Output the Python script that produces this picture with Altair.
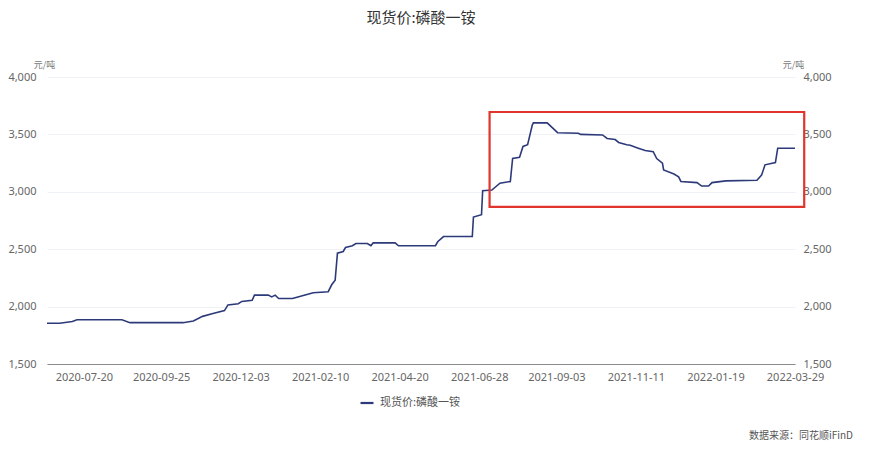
import altair as alt
import pandas as pd

# ---------------- data ----------------
series_name = "现货价:磷酸一铵"
chart_title = "现货价:磷酸一铵"
unit_label = "元/吨"
source_label = "数据来源：同花顺iFinD"

dates = [
    "2020-06-18", "2020-06-29", "2020-07-10", "2020-07-14", "2020-08-22", "2020-08-29",
    "2020-10-14", "2020-10-23", "2020-10-31", "2020-11-09", "2020-11-19", "2020-11-22",
    "2020-12-01", "2020-12-04", "2020-12-13", "2020-12-15", "2020-12-27", "2020-12-30",
    "2021-01-02", "2021-01-05", "2021-01-17", "2021-01-24", "2021-02-04", "2021-02-17",
    "2021-02-20", "2021-02-23", "2021-02-25", "2021-03-02", "2021-03-04", "2021-03-10",
    "2021-03-13", "2021-03-23", "2021-03-26", "2021-03-28", "2021-04-16", "2021-04-19",
    "2021-05-21", "2021-05-23", "2021-05-28", "2021-06-22", "2021-06-23", "2021-06-30",
    "2021-07-01", "2021-07-09", "2021-07-16", "2021-07-25", "2021-07-27", "2021-08-02",
    "2021-08-05", "2021-08-09", "2021-08-13", "2021-08-14", "2021-08-26", "2021-09-04",
    "2021-09-22", "2021-09-24", "2021-10-13", "2021-10-17", "2021-10-24", "2021-10-27",
    "2021-11-03", "2021-11-06", "2021-11-13", "2021-11-19", "2021-11-26", "2021-11-29",
    "2021-12-04", "2021-12-05", "2021-12-14", "2021-12-18", "2021-12-20", "2022-01-03",
    "2022-01-07", "2022-01-13", "2022-01-16", "2022-01-28", "2022-02-24", "2022-02-28",
    "2022-03-03", "2022-03-12", "2022-03-14", "2022-03-29",
]
prices = [
    1855, 1855, 1870, 1885, 1885, 1860,
    1860, 1875, 1915, 1940, 1965, 2015,
    2025, 2045, 2055, 2100, 2100, 2085,
    2100, 2070, 2070, 2090, 2120, 2130,
    2190, 2230, 2465, 2480, 2515, 2530,
    2550, 2550, 2530, 2555, 2555, 2530,
    2530, 2565, 2610, 2610, 2780, 2800,
    3010, 3015, 3075, 3090, 3290, 3300,
    3395, 3410, 3580, 3600, 3600, 3515,
    3510, 3500, 3495, 3465, 3455, 3430,
    3410, 3405, 3380, 3360, 3350, 3290,
    3250, 3190, 3155, 3130, 3090, 3080,
    3050, 3050, 3080, 3095, 3100, 3145,
    3235, 3255, 3380, 3380,
]

tick_dates = ["2020-07-20", "2020-09-25", "2020-12-03", "2021-02-10", "2021-04-20",
              "2021-06-28", "2021-09-03", "2021-11-11", "2022-01-19", "2022-03-29"]
y_ticks = [1500, 2000, 2500, 3000, 3500, 4000]
y_domain = [1500, 4000]

# highlight box (annotation) in data coordinates
box_start = ["2021-07-07"]
box_end = ["2022-04-06"]
box_low = [2868]
box_high = [3695]

# ---------------- build ----------------
df = pd.DataFrame({"date": dates, "price": prices, "series": series_name})
box_df = pd.DataFrame({"x0": box_start, "x1": box_end, "y0": box_low, "y1": box_high})


def dt(s):
    y, m, d = (int(p) for p in s.split("-"))
    return alt.DateTime(year=y, month=m, date=d)


W, H = 748, 287
LABEL_FONT = "Noto Sans"
CJK_FONT = "Noto Sans CJK SC"

x_scale = alt.Scale(domain=[dt(dates[0]), dt(tick_dates[-1])])
y_scale = alt.Scale(domain=y_domain)

x_axis = alt.Axis(values=[dt(t) for t in tick_dates], format="%Y-%m-%d", title=None,
                  labelColor="#666666", labelFontSize=11, labelFont=LABEL_FONT,
                  labelPadding=7, domainColor="#8c8c8c", domainWidth=1,
                  ticks=False, grid=False, labelOverlap=False, labelFlush=False)

left_axis = alt.Axis(values=y_ticks, format=",.0f", title=unit_label, titleAngle=0,
                     titleX=-3, titleY=-13, titleAlign="center", titleBaseline="middle",
                     titleFont=CJK_FONT, titleFontSize=9, titleFontWeight="normal",
                     titleColor="#777777",
                     labelColor="#666666", labelFontSize=11, labelFont=LABEL_FONT,
                     labelPadding=11, domain=False, ticks=False, labelFlush=False,
                     grid=True, gridColor="#eef1f6", gridWidth=1)

right_axis = alt.Axis(values=y_ticks, format=",.0f", orient="right", title=unit_label,
                      titleAngle=0, titleX=-2, titleY=-13, titleAlign="center",
                      titleBaseline="middle", titleFont=CJK_FONT, titleFontSize=9,
                      titleFontWeight="normal", titleColor="#777777",
                      labelColor="#666666", labelFontSize=11, labelFont=LABEL_FONT,
                      labelPadding=8, domain=False, ticks=False, grid=False,
                      labelFlush=False)

base = alt.Chart(df)

line = base.mark_line(strokeWidth=1.6).encode(
    x=alt.X("date:T", scale=x_scale, axis=x_axis),
    y=alt.Y("price:Q", scale=y_scale, axis=left_axis),
    color=alt.Color("series:N", scale=alt.Scale(range=["#2d3a7a"]),
                    legend=alt.Legend(title=None, orient="none", legendX=312, legendY=318,
                                      symbolType="stroke", symbolSize=169,
                                      symbolStrokeWidth=2.2, labelFont=CJK_FONT,
                                      labelFontSize=11, labelColor="#555555",
                                      labelOffset=5)),
)

right = base.mark_line(opacity=0).encode(
    x=alt.X("date:T", scale=x_scale, axis=x_axis),
    y=alt.Y("price:Q", scale=y_scale, axis=right_axis),
)

box = alt.Chart(box_df).mark_rect(filled=False, stroke="#e0342c", strokeWidth=2.2).encode(
    x=alt.X("x0:T", scale=x_scale, axis=x_axis), x2="x1:T",
    y=alt.Y("y0:Q", scale=y_scale, axis=None), y2="y1:Q",
)

title_df = pd.DataFrame({"t": [chart_title]})
title = alt.Chart(title_df).mark_text(font=CJK_FONT, fontSize=15, color="#333333",
                                      align="center", baseline="middle").encode(
    x=alt.value(374), y=alt.value(-59), text="t:N")

src_df = pd.DataFrame({"t": [source_label]})
source = alt.Chart(src_df).mark_text(font=CJK_FONT, fontSize=10, color="#555555",
                                     align="right", baseline="middle").encode(
    x=alt.value(806), y=alt.value(359), text="t:N")

chart = (
    alt.layer(line, right, box, title, source)
    .resolve_axis(y="independent")
    .properties(width=W, height=H, autosize=alt.AutoSizeParams(type="none"),
                padding={"left": 39, "top": 69, "right": 79, "bottom": 78},
                background="white")
    .configure_view(stroke=None)
)

chart.save("out.html", embed_options={"renderer": "svg", "actions": False})
